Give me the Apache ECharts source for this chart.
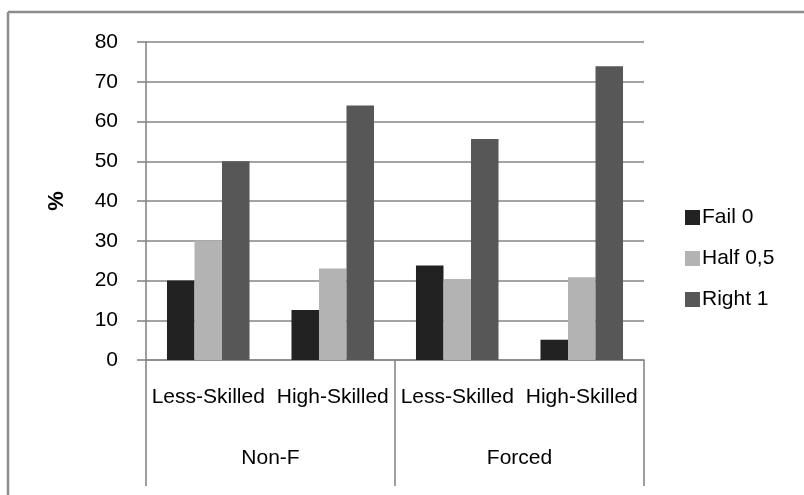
<!DOCTYPE html>
<html>
<head>
<meta charset="utf-8">
<style>
  html, body { margin: 0; padding: 0; background: #fff; }
  #chart { width: 804px; height: 495px; }
</style>
<script src="https://cdn.jsdelivr.net/npm/echarts@6/dist/echarts.min.js"></script>
</head>
<body>
<div id="chart"></div>
<script>
// Skill level within each condition (inner axis) and the conditions (outer axis)
const skillLabels = ['Less-Skilled', 'High-Skilled', 'Less-Skilled', 'High-Skilled'];
const conditionLabels = ['Non-F', 'Forced'];

// Share of answers per outcome, in %
const fail0 = [20, 12.6, 23.8, 5.1];
const half05 = [30, 23, 20.4, 20.8];
const right1 = [50, 64, 55.6, 73.9];

const seriesNames = ['Fail 0', 'Half 0,5', 'Right 1'];
const seriesColors = ['#222222', '#b3b3b3', '#575757'];

const yTicks = { min: 0, max: 80, interval: 10 };

const gridColor = '#868686';
const font = 'Liberation Sans, Arial, sans-serif';
const chart = echarts.init(document.getElementById('chart'));

const barSeries = [fail0, half05, right1].map((vals, i) => ({
  name: seriesNames[i],
  type: 'bar',
  xAxisIndex: 0,
  data: vals,
  barGap: '0%',
  barCategoryGap: '33.7%',
  itemStyle: { color: seriesColors[i] }
}));

chart.setOption({
  animation: false,
  backgroundColor: '#ffffff',
  grid: { left: 146, right: 160, top: 42, bottom: 135, containLabel: false },
  legend: {
    orient: 'vertical',
    left: 680,
    top: 202,
    icon: 'rect',
    itemWidth: 15,
    itemHeight: 15,
    itemGap: 20,
    data: seriesNames,
    textStyle: { fontFamily: font, fontSize: 21, color: '#000', lineHeight: 21, padding: [0, 0, 0, -3] }
  },
  xAxis: [
    {
      type: 'category',
      data: skillLabels,
      position: 'bottom',
      axisLine: { show: true, lineStyle: { color: gridColor, width: 1.6 } },
      axisTick: { show: false },
      axisLabel: { interval: 0, margin: 27, color: '#000', fontFamily: font, fontSize: 21 }
    },
    {
      type: 'category',
      data: conditionLabels,
      position: 'bottom',
      axisLine: { show: false },
      axisTick: { show: true, length: 126, interval: 0, lineStyle: { color: gridColor, width: 1.6 } },
      axisLabel: { interval: 0, margin: 88, color: '#000', fontFamily: font, fontSize: 21 }
    }
  ],
  yAxis: {
    type: 'value',
    min: yTicks.min,
    max: yTicks.max,
    interval: yTicks.interval,
    name: '%',
    nameLocation: 'middle',
    nameRotate: 90,
    nameGap: 78,
    nameTextStyle: { fontFamily: font, fontWeight: 'bold', fontSize: 22, color: '#000' },
    axisLine: { show: true, lineStyle: { color: gridColor, width: 1.6 } },
    axisTick: { show: true, length: 9, lineStyle: { color: gridColor, width: 1.6 } },
    axisLabel: { margin: 28, color: '#000', fontFamily: font, fontSize: 21 },
    splitLine: { show: true, lineStyle: { color: gridColor, width: 1.6 } }
  },
  graphic: [
    // chart area frame (top and left edges)
    { type: 'line', shape: { x1: 8, y1: 12, x2: 804, y2: 12 }, style: { stroke: '#8c8c8c', lineWidth: 2.5 } },
    { type: 'line', shape: { x1: 8, y1: 12, x2: 8, y2: 495 }, style: { stroke: '#8c8c8c', lineWidth: 2.5 } }
  ],
  series: barSeries
});
</script>
</body>
</html>
